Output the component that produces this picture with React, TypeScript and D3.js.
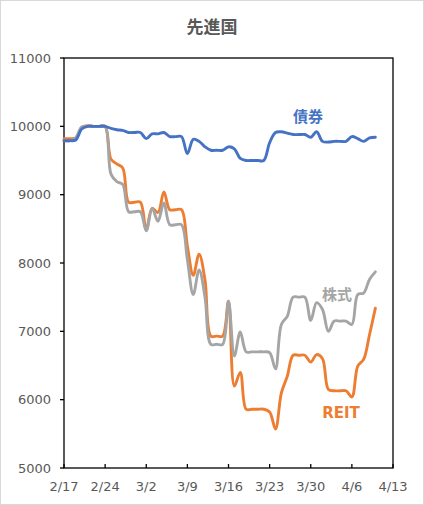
import React from "react";
import * as d3 from "d3";

const title = "先進国";
const startDate = "2020-02-17";
const endDate = "2020-04-13";
const yTicks = [5000, 6000, 7000, 8000, 9000, 10000, 11000];

// daily values (calendar days from 2/17 to 4/10), weekend/holiday values carried
const bond = [
  9790, 9790, 9800, 9960, 10000, 10000, 10000, 10000,
  9970, 9950, 9940, 9910, 9910, 9910,
  9820, 9890, 9890, 9910, 9850, 9850, 9850,
  9600, 9810, 9780, 9700, 9650, 9650, 9650,
  9700, 9670, 9530, 9500, 9500, 9500, 9500,
  9760, 9910, 9920, 9900, 9880, 9880, 9880,
  9840, 9920, 9780, 9770, 9780, 9780, 9780,
  9850, 9820, 9780, 9830, 9840,
];
const stock = [
  9790, 9790, 9830, 9990, 10000, 10000, 10000, 10000,
  9300, 9190, 9150, 8750, 8750, 8750,
  8470, 8800, 8610, 8880, 8560, 8560, 8560,
  8050, 7540, 7900, 7500, 6810, 6810, 6810,
  7440, 6640, 6990, 6700, 6700, 6700, 6700,
  6690, 6450, 7100, 7220, 7500, 7500, 7500,
  7160, 7420, 7320, 7000, 7150, 7150, 7150,
  7100, 7540, 7560, 7760, 7870,
];
const reit = [
  9820, 9820, 9830, 9980, 10010, 10000, 10000, 10000,
  9520, 9450, 9390, 8890, 8890, 8890,
  8490, 8800, 8740, 9040, 8780, 8780, 8780,
  8250, 7820, 8130, 7750, 6930, 6930, 6930,
  7440, 6200, 6400, 5860, 5860, 5860, 5860,
  5820, 5570, 6100, 6340, 6650, 6650, 6650,
  6550, 6660, 6600, 6150, 6130, 6130, 6130,
  6040, 6490, 6590, 6950, 7340,
];

const seriesNames = ["債券", "株式", "REIT"];
const seriesColors = ["#4472C4", "#A5A5A5", "#ED7D31"];

const W = 424;
const H = 505;
const M = { left: 64, right: 393, top: 58, bottom: 468 };
const DAY = 86400000;

export default function App() {
  const t0 = new Date(startDate + "T00:00:00Z");
  const t1 = new Date(endDate + "T00:00:00Z");
  const x = d3.scaleUtc().domain([t0, t1]).range([M.left, M.right]);
  const y = d3.scaleLinear().domain([5000, 11000]).range([M.bottom, M.top]);
  const xTickDates = d3.utcDay.range(t0, new Date(+t1 + DAY), 7);
  const fmt = (d: Date) => `${d.getUTCMonth() + 1}/${d.getUTCDate()}`;

  const line = d3
    .line<number>()
    .x((_, i) => x(new Date(+t0 + i * DAY)))
    .y((v) => y(v))
    .curve(d3.curveCatmullRom.alpha(0.5));

  const data = [reit, stock, bond];
  const colors = [seriesColors[2], seriesColors[1], seriesColors[0]];
  const numFont = "'DejaVu Sans', Verdana, sans-serif";
  const jpFont = "'Noto Sans CJK JP', sans-serif";

  return (
    <div style={{ position: "fixed", left: 0, top: 0 }}>
      <svg width={W} height={H} style={{ display: "block", background: "#fff" }}>
        <rect x={0.5} y={0.5} width={W - 1} height={H - 1} fill="#fff" stroke="#d9d9d9" />
        <text x={212} y={33} textAnchor="middle" fontFamily={jpFont} fontWeight="bold" fontSize={17} fill="#595959">
          {title}
        </text>
        <rect x={M.left} y={M.top} width={M.right - M.left} height={M.bottom - M.top} fill="none" stroke="#000" strokeWidth={1.3} />
        {yTicks.map((v) => (
          <g key={v}>
            <line x1={M.left - 4} x2={M.left} y1={y(v)} y2={y(v)} stroke="#000" strokeWidth={1.3} />
            <text x={51} y={y(v)} dy="0.35em" textAnchor="end" fontFamily={numFont} fontSize={13} fill="#595959">
              {v}
            </text>
          </g>
        ))}
        {xTickDates.map((d) => (
          <g key={+d}>
            <line x1={x(d)} x2={x(d)} y1={M.bottom} y2={M.bottom - 4} stroke="#000" strokeWidth={1.3} />
            <text x={x(d)} y={491} textAnchor="middle" fontFamily={numFont} fontSize={13} fill="#595959">
              {fmt(d)}
            </text>
          </g>
        ))}
        {data.map((s, i) => (
          <path key={i} d={line(s) || ""} fill="none" stroke={colors[i]} strokeWidth={2.9} strokeLinejoin="round" strokeLinecap="round" />
        ))}
        <text x={308} y={122} textAnchor="middle" fontFamily={jpFont} fontWeight="bold" fontSize={15} fill={seriesColors[0]}>
          {seriesNames[0]}
        </text>
        <text x={337} y={300} textAnchor="middle" fontFamily={jpFont} fontWeight="bold" fontSize={15} fill={seriesColors[1]}>
          {seriesNames[1]}
        </text>
        <text x={341} y={418} textAnchor="middle" fontFamily={numFont} fontWeight="bold" fontSize={15} fill={seriesColors[2]}>
          {seriesNames[2]}
        </text>
      </svg>
    </div>
  );
}
